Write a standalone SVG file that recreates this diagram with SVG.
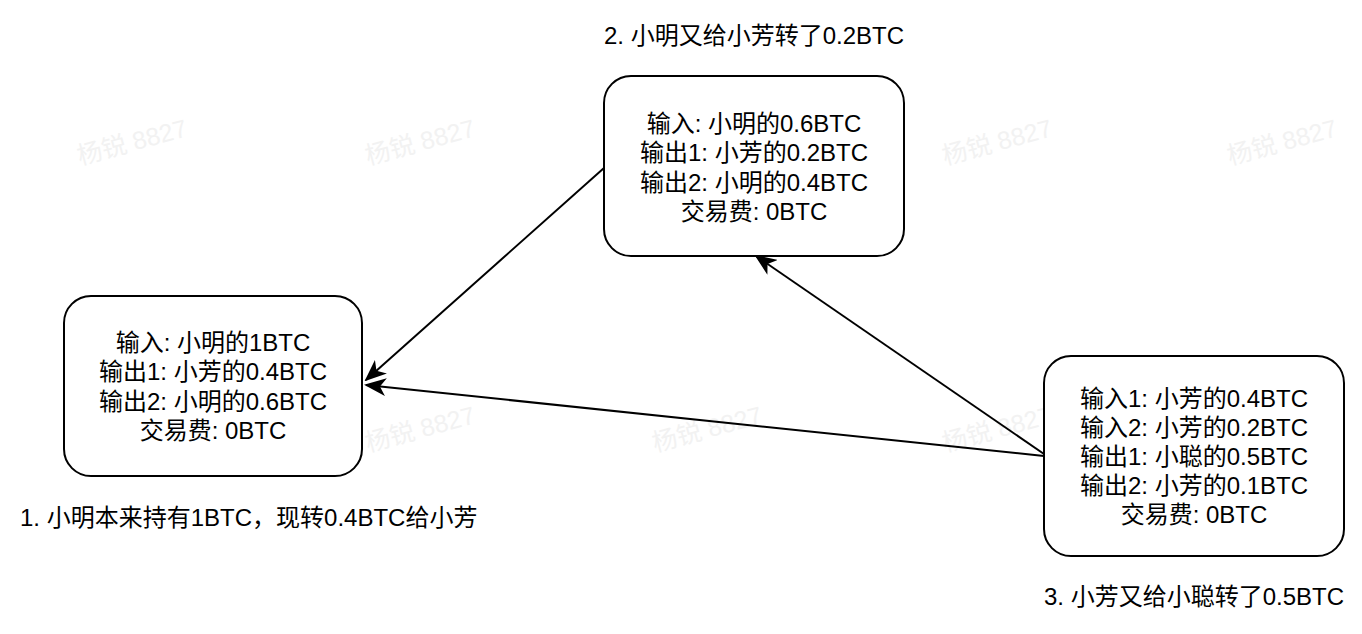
<svg xmlns="http://www.w3.org/2000/svg" width="1362" height="634" viewBox="0 0 1362 634">
<style>
.t{font-family:"Liberation Sans","Noto Sans CJK SC",sans-serif;font-size:24px;fill:#000;}
.c{text-anchor:middle;}
.box{fill:#fff;stroke:#000;stroke-width:2;}
.wm{font-family:"Liberation Sans","Noto Sans CJK SC",sans-serif;font-size:25px;fill:#f2f2f2;}
.edge{fill:none;stroke:#000;stroke-width:2;}
</style>
<defs>
<marker id="arr" viewBox="0 0 22 18" refX="20" refY="9" markerWidth="22" markerHeight="18" markerUnits="userSpaceOnUse" orient="auto">
<path d="M0,0 L22,9 L0,18 L6,9 Z" fill="#000"/>
</marker>
</defs>
<rect width="1362" height="634" fill="#fff"/>
<g id="watermarks">
<text class="wm" transform="translate(80,165) rotate(-15)">杨锐 8827</text>
<text class="wm" transform="translate(368,165) rotate(-15)">杨锐 8827</text>
<text class="wm" transform="translate(945,165) rotate(-15)">杨锐 8827</text>
<text class="wm" transform="translate(1230,165) rotate(-15)">杨锐 8827</text>
<text class="wm" transform="translate(80,452) rotate(-15)">杨锐 8827</text>
<text class="wm" transform="translate(368,452) rotate(-15)">杨锐 8827</text>
<text class="wm" transform="translate(655,452) rotate(-15)">杨锐 8827</text>
<text class="wm" transform="translate(945,452) rotate(-15)">杨锐 8827</text>
<text class="wm" transform="translate(1230,452) rotate(-15)">杨锐 8827</text>
</g>
<g id="connectors">
<line class="edge" x1="604" y1="168" x2="366" y2="380" marker-end="url(#arr)"/>
<line class="edge" x1="1044" y1="456" x2="366" y2="385" marker-end="url(#arr)"/>
<line class="edge" x1="1044" y1="454" x2="756" y2="256" marker-end="url(#arr)"/>
</g>
<g id="node1">
<rect class="box" x="64" y="296" width="298" height="180" rx="27"/>
<text class="t c" x="213" y="351">输入: 小明的1BTC</text>
<text class="t c" x="213" y="380">输出1: 小芳的0.4BTC</text>
<text class="t c" x="213" y="410">输出2: 小明的0.6BTC</text>
<text class="t c" x="213" y="439">交易费: 0BTC</text>
</g>
<g id="node2">
<rect class="box" x="604" y="76" width="300" height="180" rx="27"/>
<text class="t c" x="754" y="132">输入: 小明的0.6BTC</text>
<text class="t c" x="754" y="161">输出1: 小芳的0.2BTC</text>
<text class="t c" x="754" y="191">输出2: 小明的0.4BTC</text>
<text class="t c" x="754" y="220">交易费: 0BTC</text>
</g>
<g id="node3">
<rect class="box" x="1044" y="356" width="300" height="200" rx="27"/>
<text class="t c" x="1194" y="407">输入1: 小芳的0.4BTC</text>
<text class="t c" x="1194" y="436">输入2: 小芳的0.2BTC</text>
<text class="t c" x="1194" y="465">输出1: 小聪的0.5BTC</text>
<text class="t c" x="1194" y="494">输出2: 小芳的0.1BTC</text>
<text class="t c" x="1194" y="523">交易费: 0BTC</text>
</g>
<g id="labels">
<text class="t" x="20" y="526">1. 小明本来持有1BTC，现转0.4BTC给小芳</text>
<text class="t c" x="754" y="44">2. 小明又给小芳转了0.2BTC</text>
<text class="t c" x="1194" y="605">3. 小芳又给小聪转了0.5BTC</text>
</g>
</svg>
